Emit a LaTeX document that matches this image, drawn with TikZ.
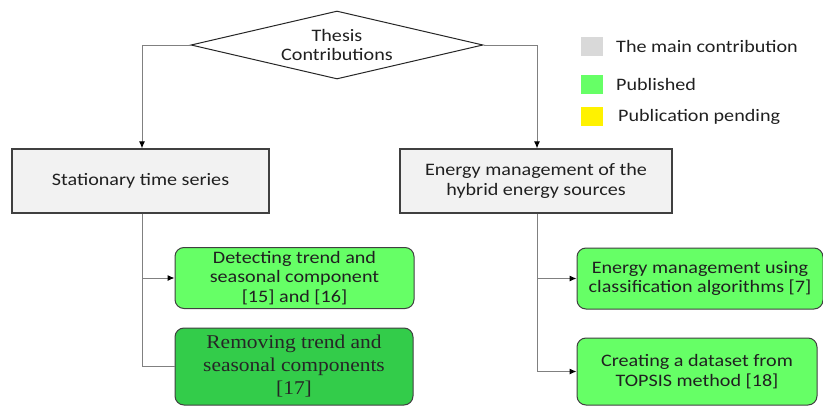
\documentclass[tikz,border=0pt]{standalone}
\usepackage{fontspec}
\setmainfont{Carlito}[FakeStretch=1.15]
\newfontfamily\tnr{Liberation Serif}[FakeStretch=1.1]
\usetikzlibrary{shapes.geometric,arrows.meta,calc}
\definecolor{boxgray}{HTML}{F2F2F2}
\definecolor{leggray}{HTML}{D9D9D9}
\definecolor{lgreen}{HTML}{66FF66}
\definecolor{dgreen}{HTML}{33CC4A}
\definecolor{lineg}{HTML}{808080}
\definecolor{edge}{HTML}{404040}
\definecolor{txt}{HTML}{202020}
\tikzset{
  x=1pt,y=-1pt,
  every node/.style={font=\fontsize{17.5}{19.5}\selectfont, text=txt, align=center, inner sep=0pt},
  mainbox/.style={draw=edge, line width=1.2pt, fill=boxgray},
  pubbox/.style={draw=edge, line width=1pt, fill=lgreen, rounded corners=9pt},
  darkbox/.style={draw=edge, line width=1pt, fill=dgreen, rounded corners=9pt},
  conn/.style={draw=lineg, line width=1pt},
  arr/.style={conn, -{Latex[length=7pt,width=6pt,black]}},
  legsq/.style={minimum width=22pt, minimum height=19pt},
  legtxt/.style={anchor=west}
}
\begin{document}
\begin{tikzpicture}
\useasboundingbox (0,0) rectangle (823,407);
\fill[white] (0,0) rectangle (823,407);
% diamond
\node[diamond, draw=black!85, line width=1pt, fill=white, aspect=4.3, minimum width=292, minimum height=68] (dia) at (337,45) {};
\node (diat) at (337,45) {Thesis\\Contributions};
% main boxes
\node[mainbox, minimum width=257, minimum height=64] (b1) at (140.5,181) {Stationary time series};
\node[mainbox, minimum width=272, minimum height=64] (b2) at (536,181) {Energy management of the\\hybrid energy sources};
% green boxes
\node[pubbox, minimum width=239, minimum height=61] (b3) at (294.5,278) {Detecting trend and\\seasonal component\\{[15]} and [16]};
\node[darkbox, minimum width=238, minimum height=77, font=\tnr\fontsize{19.5}{23}\selectfont, text=black!85] (b4) at (294,366.5) {Removing trend and\\seasonal components\\{[17]}};
\node[pubbox, minimum width=246, minimum height=61] (b5) at (700,278.5) {Energy management using\\classification algorithms [7]};
\node[pubbox, minimum width=240, minimum height=67] (b6) at (697,371.5) {Creating a dataset from\\TOPSIS method [18]};
% legend
\node[legsq, fill=leggray] (l1) at (592,46) {};
\node[legsq, fill=lgreen] (l2) at (592,84) {};
\node[legsq, fill=yellow] (l3) at (592,116.5) {};
\node[legtxt] (t1) at (616,46) {The main contribution};
\node[legtxt] (t2) at (616,84) {Published};
\node[legtxt] (t3) at (618,117) {Publication pending};
% connectors
\coordinate (c1) at (142,0);
\coordinate (c2) at (537,0);
\draw[arr] (dia.west) -| (c1 |- b1.north);
\draw[arr] (dia.east) -| (c2 |- b2.north);
\draw[conn] (c1 |- b1.south) -- (c1 |- b4.west) -- (b4.west);
\draw[arr] (c1 |- b3.west) -- (b3.west);
\draw[conn] (c2 |- b2.south) -- (c2 |- b6.west);
\draw[arr] (c2 |- b5.west) -- (b5.west);
\draw[arr] (c2 |- b6.west) -- (b6.west);
\end{tikzpicture}
\end{document}
